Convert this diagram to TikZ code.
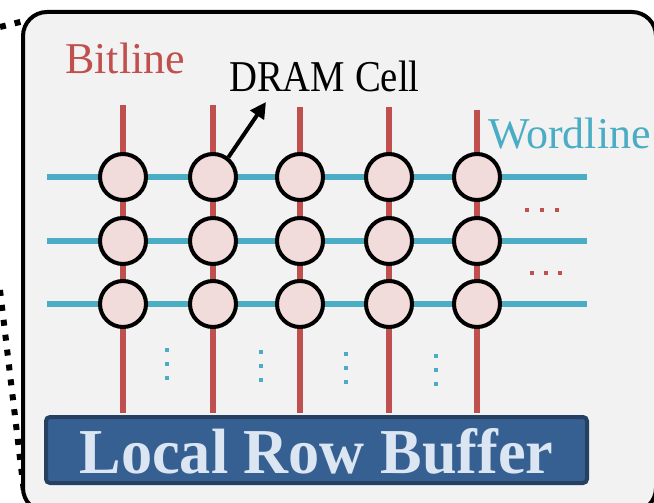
\documentclass[tikz,border=0pt]{standalone}
\usepackage{fontspec}
\setmainfont{Liberation Serif}
\usetikzlibrary{arrows.meta}
\definecolor{bitred}{HTML}{C0504D}
\definecolor{wordblue}{HTML}{4BACC6}
\definecolor{cellfill}{HTML}{F2DCDB}
\definecolor{panelfill}{HTML}{F2F2F2}
\definecolor{bufferfill}{HTML}{376092}
\definecolor{bufferdraw}{HTML}{254061}
\definecolor{buffertext}{HTML}{DCE6F2}
\begin{document}
\begin{tikzpicture}[x=1pt,y=-1pt,
  bitline/.style={draw=bitred,line width=6pt},
  wordline/.style={draw=wordblue,line width=6pt},
  cell/.style={circle,draw=black,line width=4pt,fill=cellfill,minimum size=46pt,inner sep=0pt},
  zoomline/.style={draw=black,line width=6pt,dash pattern=on 6pt off 9pt},
  rdot/.style={fill=bitred},
  bdot/.style={fill=wordblue},
  lbl/.style={anchor=base west,inner sep=0pt,font=\fontsize{44}{50}\selectfont}]
\useasboundingbox (0,0) rectangle (654,503);
\clip (0,0) rectangle (654,503);
% zoom lines
\coordinate (zt0) at (0,27); \coordinate (zt1) at (24,21);
\coordinate (zb0) at (0,290); \coordinate (zb1) at (24,492);
\draw[zoomline] (zt0) -- (zt1);
\draw[zoomline] (zb0) -- (zb1);
% panel
\draw[line width=4pt,fill=panelfill,rounded corners=24pt] (23,12) rectangle (656,512);
% bitlines
\foreach \x/\t [count=\i] in {123/105,213/105,300/107,389/107,477/110}{
  \coordinate (bt\i) at (\x,\t); \coordinate (bb\i) at (\x,413);
  \draw[bitline] (bt\i) -- (bb\i);
}
% wordlines
\foreach \y [count=\j] in {177,241,304}{
  \coordinate (wl\j) at (47,\y); \coordinate (wr\j) at (587,\y);
  \draw[wordline] (wl\j) -- (wr\j);
}
% cells
\foreach \x [count=\i] in {123,213,300,389,477}{
  \foreach \y [count=\j] in {177,241,304}{
    \node[cell] (c\j\i) at (\x,\y) {};
  }
}
% dots
\foreach \x in {527,542,557}{\fill[rdot] (\x-2,208) rectangle (\x+2,212);}
\foreach \x in {532,546,560}{\fill[rdot] (\x-2,271) rectangle (\x+2,275);}
\foreach \x/\y in {167/350,261/352,346/354,436/356}{
  \foreach \k in {0,14,28}{\fill[bdot] (\x-2,\y+\k-2) rectangle (\x+2,\y+\k+2);}
}
% labels
\node[lbl,text=bitred] (bitlbl) at (65,74) {Bitline};
\node[lbl,text=black,xscale=0.88] (celllbl) at (229,92) {DRAM Cell};
\node[lbl,text=wordblue] (wordlbl) at (488,148) {Wordline};
\coordinate (tip) at (266,102);
\draw[line width=4pt,-{Triangle[length=16pt,width=16pt]}] (c12.52) -- (tip);
% buffer
\node[draw=bufferdraw,fill=bufferfill,line width=4pt,rounded corners=4pt,minimum width=541pt,minimum height=66pt,inner sep=0pt] (buf) at (316.5,450) {};
\node[anchor=base,inner sep=0pt,text=buffertext,xscale=0.973,font=\fontsize{64}{70}\selectfont\bfseries] (buftext) at (316.5,473) {Local Row Buffer};
\end{tikzpicture}
\end{document}
